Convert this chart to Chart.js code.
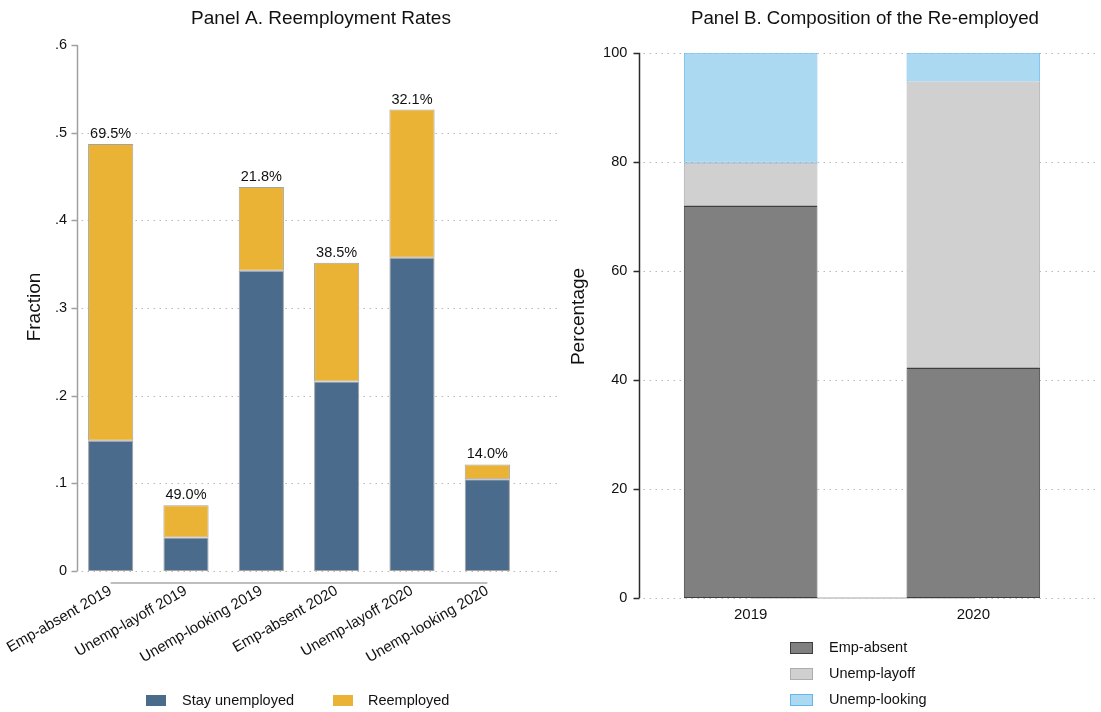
<!DOCTYPE html>
<html>
<head>
<meta charset="utf-8">
<title>Reemployment Rates and Composition</title>
<script src="https://cdn.jsdelivr.net/npm/chart.js@4.4.0/dist/chart.umd.min.js"></script>
<style>
    html, body { margin: 0; padding: 0; background: #fff; }
    #wrap { position: relative; width: 1101px; height: 712px; }
    #panelA { position: absolute; left: 0; top: 0; }
    #panelB { position: absolute; left: 560px; top: 0; }
</style>
</head>
<body>
<div id="wrap">
    <canvas id="panelA" width="560" height="712"></canvas>
    <canvas id="panelB" width="541" height="712"></canvas>
</div>
<script>
// Panel A: fractions by group, stacked
const groups = ['Emp-absent 2019', 'Unemp-layoff 2019', 'Unemp-looking 2019',
                'Emp-absent 2020', 'Unemp-layoff 2020', 'Unemp-looking 2020'];
const stayUnemployed = [0.1485, 0.0382, 0.3425, 0.2162, 0.3573, 0.1046];
const reemployed = [0.3385, 0.0367, 0.0955, 0.1354, 0.1690, 0.0170];
const fractionTicks = ['0', '.1', '.2', '.3', '.4', '.5', '.6'];

// Panel B: composition of the re-employed, percent
const years = ['2019', '2020'];
const empAbsent = [71.9, 42.2];
const unempLayoff = [7.9, 52.5];
const unempLooking = [20.2, 5.3];
const percentTicks = ['0', '20', '40', '60', '80', '100'];

const FONT = 'Arial, "Liberation Sans", sans-serif';
Chart.defaults.font.family = FONT;
Chart.defaults.font.size = 14.5;
Chart.defaults.color = '#111';

function drawText(ctx, str, x, y, size, align, rotate) {
    ctx.save();
    ctx.font = size + 'px ' + FONT;
    ctx.fillStyle = '#111';
    ctx.textAlign = align || 'left';
    ctx.textBaseline = 'middle';
    ctx.translate(x, y);
    if (rotate) ctx.rotate(rotate);
    ctx.fillText(str, 0, 0);
    ctx.restore();
}

// dotted gridlines, y axis line with ticks, and the short x baseline
function drawAxes(chart, o) {
    const {ctx, chartArea, scales: {x, y}} = chart;
    ctx.save();
    ctx.lineWidth = 1;
    ctx.strokeStyle = o.gridColor;
    ctx.setLineDash([1.5, 4.5]);
    y.ticks.forEach(t => {
        if (!o.gridAtMax && t.value >= y.max) return;
        const py = Math.round(y.getPixelForValue(t.value)) + 0.5;
        ctx.beginPath();
        ctx.moveTo(o.axisX + 4, py);
        ctx.lineTo(o.gridTo, py);
        ctx.stroke();
    });
    ctx.setLineDash([]);

    ctx.strokeStyle = o.axisColor;
    ctx.lineWidth = o.axisWidth;
    ctx.beginPath();
    ctx.moveTo(o.axisX, chartArea.top);
    ctx.lineTo(o.axisX, chartArea.bottom);
    y.ticks.forEach(t => {
        const py = Math.round(y.getPixelForValue(t.value)) + 0.5;
        ctx.moveTo(o.axisX - 6, py);
        ctx.lineTo(o.axisX, py);
    });
    ctx.stroke();

    ctx.strokeStyle = o.baseColor;
    ctx.lineWidth = 1.5;
    ctx.beginPath();
    ctx.moveTo(x.getPixelForValue(0), chartArea.bottom + o.baseOffset);
    ctx.lineTo(x.getPixelForValue(x.ticks.length - 1), chartArea.bottom + o.baseOffset);
    ctx.stroke();
    ctx.restore();
}

function drawLegend(ctx, items) {
    items.forEach(it => {
        ctx.save();
        ctx.fillStyle = it.fill;
        ctx.fillRect(it.x, it.y, it.w, it.h);
        if (it.stroke) {
            ctx.strokeStyle = it.stroke;
            ctx.lineWidth = 1;
            ctx.strokeRect(it.x + 0.5, it.y + 0.5, it.w - 1, it.h - 1);
        }
        ctx.restore();
        drawText(ctx, it.label, it.tx, it.y + it.h / 2, 14.5, 'left');
    });
}

const COLORS = {
    stay: '#4a6b8c',
    reemp: '#ebb335',
    edgeA: '#a3a3a3',
    absent: '#808080',
    absentEdge: '#3e3e3e',
    layoff: '#d0d0d0',
    layoffEdge: '#adadad',
    looking: '#acd9f2',
    lookingEdge: '#66b6ea'
};

document.addEventListener('DOMContentLoaded', () => {
    const panelADecor = {
        id: 'panelADecor',
        beforeDatasetsDraw(chart) {
            drawAxes(chart, {
                axisX: 77.5, axisColor: '#a0a0a0', axisWidth: 1.5,
                gridColor: '#b8b8b8', gridTo: 557, gridAtMax: false,
                baseColor: '#a8a8a8', baseOffset: 12
            });
        },
        afterDatasetsDraw(chart) {
            const {ctx, scales: {x, y}} = chart;
            groups.forEach((g, i) => {
                const total = stayUnemployed[i] + reemployed[i];
                const share = (reemployed[i] / total * 100).toFixed(1) + '%';
                ctx.save();
                ctx.font = '14.5px ' + FONT;
                ctx.fillStyle = '#111';
                ctx.textAlign = 'center';
                ctx.textBaseline = 'alphabetic';
                ctx.fillText(share, x.getPixelForValue(i), y.getPixelForValue(total) - 6);
                ctx.restore();
            });
        },
        afterDraw(chart) {
            const ctx = chart.ctx;
            drawText(ctx, 'Panel A. Reemployment Rates', 321, 19, 19, 'center');
            drawText(ctx, 'Fraction', 35, 307, 19, 'center', -Math.PI / 2);
            drawLegend(ctx, [
                {label: 'Stay unemployed', fill: COLORS.stay, x: 146, y: 695, w: 20, h: 11, tx: 182},
                {label: 'Reemployed', fill: COLORS.reemp, x: 333, y: 695, w: 20, h: 11, tx: 368}
            ]);
        }
    };

    new Chart(document.getElementById('panelA'), {
        type: 'bar',
        data: {
            labels: groups,
            datasets: [{
                label: 'Stay unemployed',
                data: stayUnemployed,
                backgroundColor: COLORS.stay,
                borderColor: COLORS.edgeA,
                borderWidth: 1,
                borderSkipped: false
            }, {
                label: 'Reemployed',
                data: reemployed,
                backgroundColor: COLORS.reemp,
                borderColor: COLORS.edgeA,
                borderWidth: 1,
                borderSkipped: false
            }]
        },
        options: {
            responsive: false,
            animation: false,
            layout: { padding: { top: 45, left: 0, right: 35, bottom: 0 } },
            datasets: { bar: { categoryPercentage: 0.6, barPercentage: 1 } },
            plugins: {
                legend: { display: false },
                title: { display: false },
                tooltip: { enabled: false }
            },
            scales: {
                x: {
                    stacked: true,
                    grid: { display: false, drawTicks: false },
                    border: { display: false },
                    ticks: {
                        autoSkip: false,
                        minRotation: 30,
                        maxRotation: 30,
                        padding: 11,
                        font: { size: 15 },
                        color: '#111'
                    },
                    afterFit(scale) {
                        scale.height = 141;
                        scale.paddingLeft = 0;
                        scale.paddingRight = 0;
                    }
                },
                y: {
                    stacked: true,
                    min: 0,
                    max: 0.6,
                    grid: { display: false, drawTicks: false },
                    border: { display: false },
                    ticks: {
                        stepSize: 0.1,
                        padding: 6,
                        color: '#111',
                        callback: (value, index) => fractionTicks[index]
                    },
                    afterFit(scale) {
                        scale.width = 73;
                    }
                }
            }
        },
        plugins: [panelADecor]
    });

    const panelBDecor = {
        id: 'panelBDecor',
        beforeDatasetsDraw(chart) {
            drawAxes(chart, {
                axisX: 79.5, axisColor: '#2a2a2a', axisWidth: 1.5,
                gridColor: '#b8b8b8', gridTo: 538, gridAtMax: true,
                baseColor: '#c4c4c4', baseOffset: 0
            });
        },
        afterDraw(chart) {
            const ctx = chart.ctx;
            drawText(ctx, 'Panel B. Composition of the Re-employed', 305, 19, 18.7, 'center');
            drawText(ctx, 'Percentage', 18.5, 316.5, 19, 'center', -Math.PI / 2);
            drawLegend(ctx, [
                {label: 'Emp-absent', fill: COLORS.absent, stroke: COLORS.absentEdge, x: 230, y: 642, w: 23, h: 12, tx: 269},
                {label: 'Unemp-layoff', fill: COLORS.layoff, stroke: COLORS.layoffEdge, x: 230, y: 668, w: 23, h: 12, tx: 269},
                {label: 'Unemp-looking', fill: COLORS.looking, stroke: COLORS.lookingEdge, x: 230, y: 694, w: 23, h: 12, tx: 269}
            ]);
        }
    };

    new Chart(document.getElementById('panelB'), {
        type: 'bar',
        data: {
            labels: years,
            datasets: [{
                label: 'Emp-absent',
                data: empAbsent,
                backgroundColor: COLORS.absent,
                borderColor: COLORS.absentEdge,
                borderWidth: 1,
                borderSkipped: false
            }, {
                label: 'Unemp-layoff',
                data: unempLayoff,
                backgroundColor: COLORS.layoff,
                borderColor: COLORS.layoffEdge,
                borderWidth: 1,
                borderSkipped: false
            }, {
                label: 'Unemp-looking',
                data: unempLooking,
                backgroundColor: COLORS.looking,
                borderColor: COLORS.lookingEdge,
                borderWidth: 1,
                borderSkipped: false
            }]
        },
        options: {
            responsive: false,
            animation: false,
            layout: { padding: { top: 52.7, left: 0, right: 16.3, bottom: 0 } },
            datasets: { bar: { categoryPercentage: 0.6, barPercentage: 1 } },
            plugins: {
                legend: { display: false },
                title: { display: false },
                tooltip: { enabled: false }
            },
            scales: {
                x: {
                    stacked: true,
                    grid: { display: false, drawTicks: false },
                    border: { display: false },
                    ticks: { padding: 8, maxRotation: 0, font: { size: 15 }, color: '#111' },
                    afterFit(scale) {
                        scale.height = 114;
                    }
                },
                y: {
                    stacked: true,
                    min: 0,
                    max: 100,
                    grid: { display: false, drawTicks: false },
                    border: { display: false },
                    ticks: {
                        stepSize: 20,
                        padding: 12,
                        color: '#111',
                        callback: (value, index) => percentTicks[index]
                    },
                    afterFit(scale) {
                        scale.width = 79.3;
                    }
                }
            }
        },
        plugins: [panelBDecor]
    });
});
</script>
</body>
</html>
